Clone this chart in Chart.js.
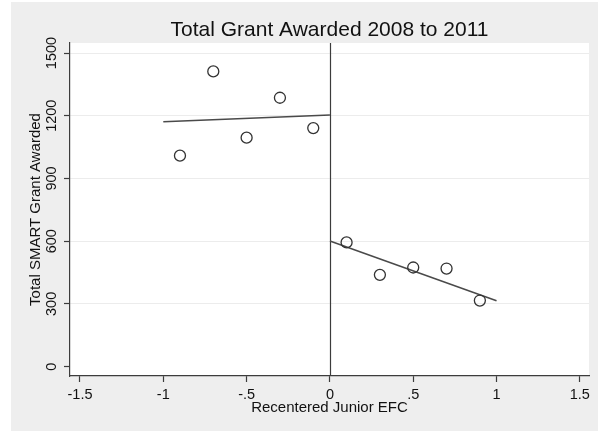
<!DOCTYPE html>
<html>
<head>
<meta charset="utf-8">
<script src="https://cdn.jsdelivr.net/npm/chart.js@4"></script>
<style>
  html, body { margin: 0; padding: 0; background: #ffffff; }
  #wrap { width: 598px; height: 431px; }
</style>
</head>
<body>
<div id="wrap"><canvas id="c" width="598" height="431"></canvas></div>
<script>
// Binned means of total SMART grant by recentered junior EFC
const binCenters = [-0.9, -0.7, -0.5, -0.3, -0.1, 0.1, 0.3, 0.5, 0.7, 0.9];
const grantTotals = [1009, 1412, 1095, 1286, 1141, 594, 439, 474, 469, 316];

// Linear fits on either side of the cutoff (endpoints)
const leftFitX = [-1, 0];
const leftFitY = [1171, 1203];
const rightFitX = [0, 1];
const rightFitY = [601, 315];

// Axis ticks
const xTicks = [-1.5, -1, -0.5, 0, 0.5, 1, 1.5];
const xTickLabels = ['-1.5', '-1', '-.5', '0', '.5', '1', '1.5'];
const yTicks = [0, 300, 600, 900, 1200, 1500];
const yTickLabels = ['0', '300', '600', '900', '1200', '1500'];

const cutoff = 0;
const FONT = '"Liberation Sans", Arial, Helvetica, sans-serif';
const INK = '#111111';
const AXIS = '#3c3c3c';

const toPoints = (xs, ys) => xs.map((x, i) => ({ x: x, y: ys[i] }));

const frame = {
  id: 'frame',
  beforeDraw(chart) {
    const { ctx, chartArea: a } = chart;
    ctx.save();
    ctx.fillStyle = '#ffffff';
    ctx.fillRect(0, 0, chart.width, chart.height);
    ctx.fillStyle = '#eeeeee';
    ctx.fillRect(11, 2, chart.width - 11, chart.height - 2);
    ctx.fillStyle = '#ffffff';
    ctx.fillRect(a.left, a.top, a.right - a.left, a.bottom - a.top);
    ctx.restore();
  },
  beforeDatasetsDraw(chart) {
    // vertical reference line at the cutoff
    const { ctx, chartArea: a, scales: { x } } = chart;
    const px = Math.round(x.getPixelForValue(cutoff)) + 0.5;
    ctx.save();
    ctx.strokeStyle = AXIS;
    ctx.lineWidth = 1.2;
    ctx.beginPath();
    ctx.moveTo(px, a.top);
    ctx.lineTo(px, a.bottom);
    ctx.stroke();
    ctx.restore();
  },
  afterDraw(chart) {
    const { ctx, chartArea: a } = chart;
    ctx.save();
    ctx.fillStyle = INK;
    ctx.font = '21px ' + FONT;
    ctx.textAlign = 'center';
    ctx.textBaseline = 'alphabetic';
    ctx.fillText('Total Grant Awarded 2008 to 2011', (a.left + a.right) / 2, 36);
    ctx.restore();
  }
};

new Chart(document.getElementById('c'), {
  type: 'scatter',
  data: {
    datasets: [
      {
        label: 'Grant',
        data: toPoints(binCenters, grantTotals),
        pointStyle: 'circle',
        pointRadius: 5.5,
        pointBorderWidth: 1.3,
        pointBorderColor: '#333333',
        pointBackgroundColor: 'rgba(255,255,255,0)',
        showLine: false,
        order: 0
      },
      {
        label: 'Fit left',
        data: toPoints(leftFitX, leftFitY),
        showLine: true,
        borderColor: '#4a4a4a',
        borderWidth: 1.5,
        pointRadius: 0,
        order: 1
      },
      {
        label: 'Fit right',
        data: toPoints(rightFitX, rightFitY),
        showLine: true,
        borderColor: '#4a4a4a',
        borderWidth: 1.5,
        pointRadius: 0,
        order: 1
      }
    ]
  },
  options: {
    responsive: false,
    animation: false,
    devicePixelRatio: 1,
    layout: { padding: { top: 43, right: 9, left: 0, bottom: 0 } },
    plugins: {
      legend: { display: false },
      title: { display: false },
      tooltip: { enabled: false }
    },
    scales: {
      x: {
        type: 'linear',
        min: -1.56,
        max: 1.555,
        afterFit: (s) => { s.height = 55; },
        afterBuildTicks: (s) => { s.ticks = xTicks.map(v => ({ value: v })); },
        border: { display: true, color: AXIS, width: 1.2 },
        grid: {
          drawOnChartArea: false,
          drawTicks: true,
          tickLength: 6,
          tickColor: AXIS,
          tickWidth: 1.2
        },
        ticks: {
          color: INK,
          font: { family: FONT, size: 14.5 },
          padding: 4.5,
          maxRotation: 0,
          minRotation: 0,
          callback: (v) => xTickLabels[xTicks.indexOf(v)]
        },
        title: {
          display: true,
          text: 'Recentered Junior EFC',
          color: INK,
          font: { family: FONT, size: 15 },
          padding: { top: 0, bottom: 14 }
        }
      },
      y: {
        type: 'linear',
        min: -45,
        max: 1548,
        afterFit: (s) => { s.width = 70; },
        afterBuildTicks: (s) => { s.ticks = yTicks.map(v => ({ value: v })); },
        border: { display: true, color: AXIS, width: 1.2 },
        grid: {
          drawOnChartArea: true,
          color: (ctx) => (ctx.tick && ctx.tick.value === 0) ? 'rgba(0,0,0,0)' : '#ececec',
          lineWidth: 1,
          drawTicks: true,
          tickLength: 6,
          tickColor: AXIS,
          tickWidth: 1.2
        },
        ticks: {
          color: INK,
          font: { family: FONT, size: 14.5 },
          minRotation: 90,
          maxRotation: 90,
          crossAlign: 'center',
          padding: -4,
          callback: (v) => yTickLabels[yTicks.indexOf(v)]
        },
        title: {
          display: true,
          text: 'Total SMART Grant Awarded',
          color: INK,
          font: { family: FONT, size: 15 },
          padding: { top: 26.5, bottom: 0 }
        }
      }
    }
  },
  plugins: [frame]
});
</script>
</body>
</html>
